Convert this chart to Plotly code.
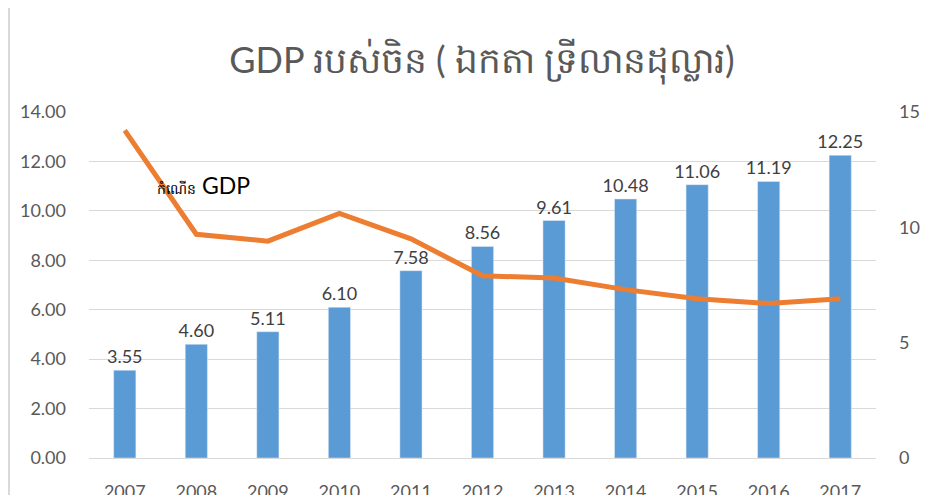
import plotly.graph_objects as go

years = ["2007", "2008", "2009", "2010", "2011", "2012", "2013", "2014", "2015", "2016", "2017"]
gdp_trillion = [3.55, 4.60, 5.11, 6.10, 7.58, 8.56, 9.61, 10.48, 11.06, 11.19, 12.25]
gdp_growth = [14.2, 9.7, 9.4, 10.6, 9.5, 7.9, 7.8, 7.3, 6.9, 6.7, 6.9]
left_ticks = [0, 2, 4, 6, 8, 10, 12, 14]
right_ticks = [0, 5, 10, 15]

FONT = "Lato, 'Noto Sans', sans-serif"

# page body has an 8px margin; compensate so the plot lands where the reference has it
L, T, PW, PH = 81, 104, 787, 346
W, H = 943, 495

fig = go.Figure()
fig.add_trace(go.Bar(
    x=years, y=gdp_trillion, marker_color="#5B9BD5", width=0.31,
    text=[f"{v:.2f}" for v in gdp_trillion], textposition="outside", constraintext="none",
    textfont=dict(size=18, color="#404040", family=FONT), cliponaxis=False,
    showlegend=False, yaxis="y",
))
fig.add_trace(go.Scatter(
    x=years, y=gdp_growth, mode="lines", line=dict(color="#ED7D31", width=5),
    showlegend=False, yaxis="y2",
))

fig.update_layout(
    width=W, height=H,
    margin=dict(l=L, r=W - L - PW, t=T, b=H - T - PH),
    plot_bgcolor="white", paper_bgcolor="white",
    font=dict(family=FONT, color="#595959"),
    title=dict(text="GDP របស់ចិន ( ឯកតា ទ្រីលានដុល្លារ)", x=(482 - 8) / W, xanchor="center",
               y=1 - 52 / H, yanchor="middle", font=dict(size=36, color="#595959", family=FONT)),
    xaxis=dict(type="category", tickfont=dict(size=18), showgrid=False, showline=True,
               linecolor="#D9D9D9", linewidth=1, ticks="", ticklabelstandoff=17, automargin=False),
    yaxis=dict(range=[0, 14], tickvals=left_ticks, ticktext=[f"{v:.2f}" for v in left_ticks],
               tickfont=dict(size=18), gridcolor="#D9D9D9", gridwidth=1, zeroline=False,
               ticklabelstandoff=22, automargin=False),
    yaxis2=dict(range=[0, 15], tickvals=right_ticks, overlaying="y", side="right",
                tickfont=dict(size=18), showgrid=False, zeroline=False, ticklabelstandoff=22,
                automargin=False),
    annotations=[dict(
        text="<span style='font-size:14px'>កំណើន</span> GDP", xref="paper", yref="paper",
        x=(155 - 8 - L) / PW, y=(458 - 185) / PH, xanchor="left", yanchor="middle",
        showarrow=False, font=dict(size=23, color="#000000", family=FONT),
    )],
    shapes=[dict(type="line", xref="paper", yref="paper", x0=(1 - L) / PW, x1=(1 - L) / PW,
                 y0=-(H - T - PH) / PH, y1=(PH + T) / PH, line=dict(color="#D9D9D9", width=2))],
)

fig.write_html("out.html")
